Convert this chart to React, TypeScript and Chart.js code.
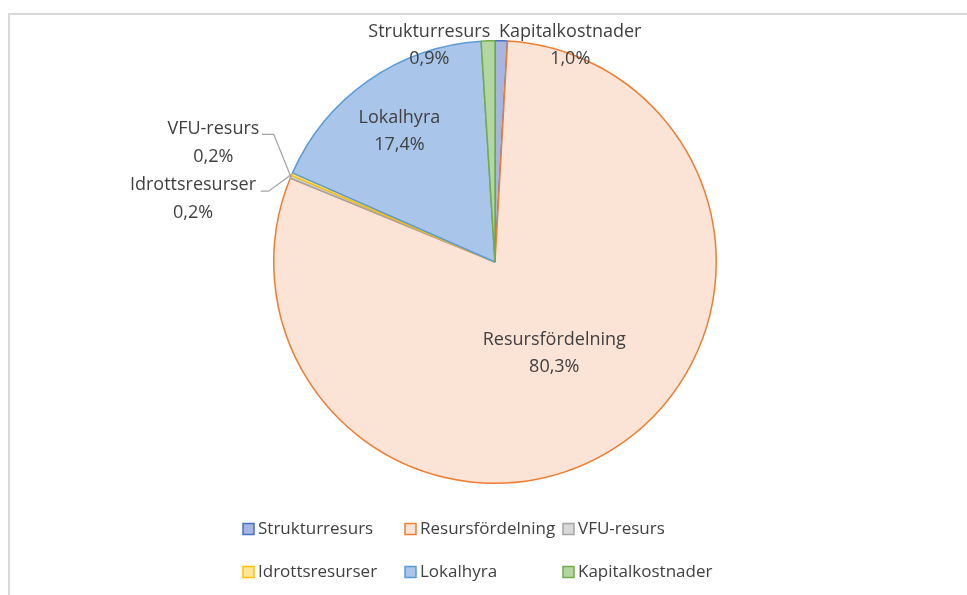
import React, { useEffect, useRef } from "react";
import { Chart, registerables } from "chart.js";

Chart.register(...registerables);

const categories = ["Strukturresurs", "Resursfördelning", "VFU-resurs", "Idrottsresurser", "Lokalhyra", "Kapitalkostnader"];
const shares = [0.9, 80.3, 0.2, 0.2, 17.4, 1.0];
const shareLabels = ["0,9%", "80,3%", "0,2%", "0,2%", "17,4%", "1,0%"];
const fillColors = ["#a7b5e1", "#fbe3d6", "#d9d9d9", "#ffe699", "#a9c5ea", "#b3d6a3"];
const borderColors = ["#4472c4", "#ed7d31", "#a5a5a5", "#ffc000", "#5b9bd5", "#70ad47"];

const FONT = "'Open Sans', 'Noto Sans', sans-serif";
const TEXT = "#404040";

// label placement, in units of the pie radius relative to centre (dx, dy)
const labelPlace = [
  { dx: -0.297, dy: -1.04, outside: false },
  { dx: 0.268, dy: 0.351, outside: false },
  { dx: -1.065, dy: -0.60, outside: true, lead: [-1.054, -0.577, -1.0, -0.577] },
  { dx: -1.08, dy: -0.35, outside: true, lead: [-1.059, -0.320, -1.023, -0.320] },
  { dx: -0.432, dy: -0.653, outside: false },
  { dx: 0.34, dy: -1.04, outside: false },
];

const labelPlugin = {
  id: "pieLabels",
  afterDatasetsDraw(chart: any) {
    const ctx = chart.ctx;
    const meta = chart.getDatasetMeta(0);
    const arc0 = meta.data[0];
    const cx = arc0.x, cy = arc0.y, r = arc0.outerRadius;
    ctx.save();
    ctx.fillStyle = TEXT;
    ctx.font = `18px ${FONT}`;
    ctx.textBaseline = "middle";
    labelPlace.forEach((p, i) => {
      const arc = meta.data[i];
      const x = cx + p.dx * r;
      const y = cy + p.dy * r;
      if (p.outside && p.lead) {
        const mid = (arc.startAngle + arc.endAngle) / 2;
        const ex = cx + Math.cos(mid) * r;
        const ey = cy + Math.sin(mid) * r;
        ctx.strokeStyle = "#a6a6a6";
        ctx.lineWidth = 1.3;
        ctx.beginPath();
        ctx.moveTo(cx + p.lead[0] * r, cy + p.lead[1] * r);
        ctx.lineTo(cx + p.lead[2] * r, cy + p.lead[3] * r);
        ctx.lineTo(ex, ey);
        ctx.stroke();
        ctx.textAlign = "right";
        ctx.fillText(categories[i], x, y);
        const w = ctx.measureText(categories[i]).width;
        ctx.textAlign = "center";
        ctx.fillText(shareLabels[i], x - w / 2, y + 28);
      } else {
        ctx.textAlign = "center";
        ctx.fillText(categories[i], x, y);
        ctx.fillText(shareLabels[i], x, y + 27);
      }
    });
    ctx.restore();
  },
  afterDraw(chart: any) {
    const ctx = chart.ctx;
    ctx.save();
    // frame lines
    ctx.strokeStyle = "#d9d9d9";
    ctx.lineWidth = 2;
    ctx.beginPath();
    ctx.moveTo(9, chart.height);
    ctx.lineTo(9, 14);
    ctx.lineTo(chart.width, 14);
    ctx.stroke();
    // legend
    const cols = [243, 405, 563];
    const rows = [529, 572];
    ctx.font = `17px ${FONT}`;
    ctx.textBaseline = "middle";
    ctx.textAlign = "left";
    categories.forEach((c, i) => {
      const x = cols[i % 3];
      const y = rows[Math.floor(i / 3)];
      ctx.fillStyle = fillColors[i];
      ctx.fillRect(x, y - 5.5, 11, 11);
      ctx.strokeStyle = borderColors[i];
      ctx.lineWidth = 1.5;
      ctx.strokeRect(x, y - 5.5, 11, 11);
      ctx.fillStyle = TEXT;
      ctx.fillText(c, x + 15, y);
    });
    ctx.restore();
  },
};

export default function App() {
  const ref = useRef<HTMLCanvasElement>(null);
  useEffect(() => {
    document.body.style.margin = "0";
    const chart = new Chart(ref.current!, {
      type: "pie",
      data: {
        labels: categories,
        datasets: [
          {
            data: shares,
            backgroundColor: fillColors,
            borderColor: borderColors,
            borderWidth: 1.5,
          },
        ],
      },
      options: {
        animation: false,
        responsive: false,
        layout: { padding: { top: 40, bottom: 111, left: 23, right: 0 } },
        plugins: { legend: { display: false }, tooltip: { enabled: false } },
      },
      plugins: [labelPlugin],
    });
    return () => chart.destroy();
  }, []);
  return (
    <div style={{ position: "absolute", left: 0, top: 0, width: 967, height: 595, background: "#fff" }}>
      <canvas ref={ref} width={967} height={595} />
    </div>
  );
}
